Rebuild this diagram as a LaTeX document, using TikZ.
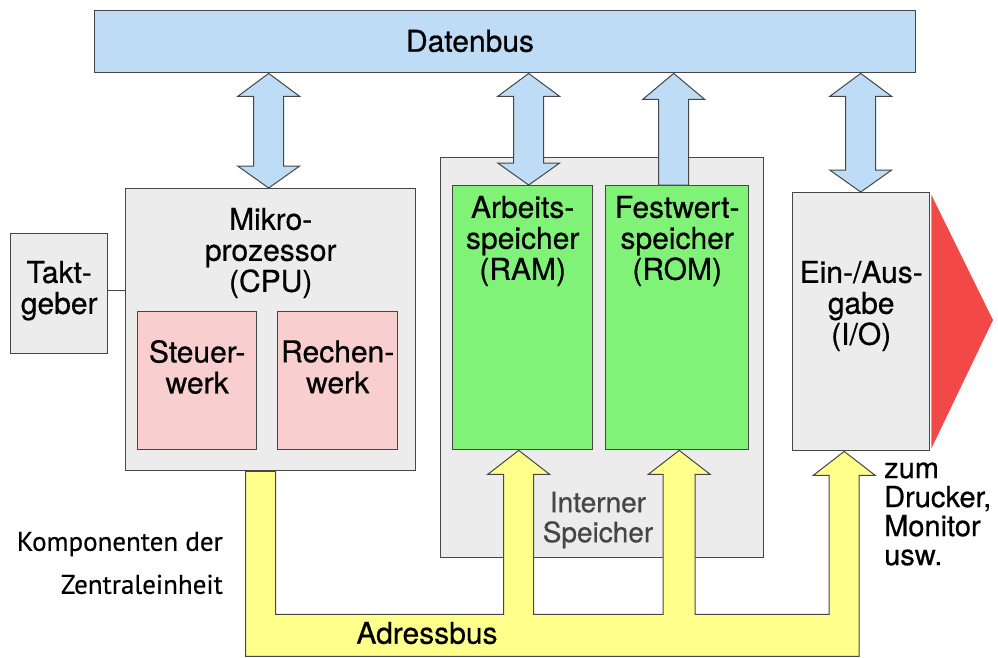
\documentclass[tikz,border=0pt]{standalone}
\usepackage{fontspec}
\setmainfont{TeX Gyre Heros}[FakeBold=0.6]
\newfontfamily\komfont{PT Sans}[FakeBold=0.4]
\usetikzlibrary{calc}
\definecolor{busblue}{RGB}{190,220,245}
\definecolor{boxgray}{RGB}{236,236,236}
\definecolor{pinkfill}{RGB}{248,206,206}
\definecolor{greenfill}{RGB}{128,242,120}
\definecolor{yellowfill}{RGB}{255,255,140}
\definecolor{redfill}{RGB}{242,72,72}
\definecolor{edge}{RGB}{70,70,70}
\definecolor{darktext}{RGB}{70,70,70}
\newcommand\DblArrow[2]{%
  \draw[dbus] (#1) -- ($(#1)+(31,23)$) -- ($(#1)+(15,23)$) -- ($(#2)+(15,-22)$) -- ($(#2)+(31,-22)$) -- (#2)
   -- ($(#2)+(-31,-22)$) -- ($(#2)+(-15,-22)$) -- ($(#1)+(-15,23)$) -- ($(#1)+(-31,23)$) -- cycle;}
\begin{document}
\begin{tikzpicture}[x=1pt,y=-1pt,
  box/.style={draw=edge,line width=1.4pt,inner sep=0pt,anchor=north west},
  lbl/.style={font=\fontsize{30}{31}\selectfont,align=center,inner sep=0pt,text=black},
  dbus/.style={draw=edge,line width=1pt,fill=busblue,line join=miter},
  abus/.style={draw=edge,line width=1pt,fill=yellowfill,line join=miter}]
\useasboundingbox (0,0) rectangle (998,657);
% boxes
\node[box,fill=busblue,minimum width=821,minimum height=62] (datenbus) at (94,10) {};
\node[box,fill=boxgray,minimum width=97,minimum height=120] (takt) at (10,233) {};
\node[box,fill=boxgray,minimum width=290,minimum height=282] (cpu) at (125,188) {};
\node[box,fill=pinkfill,minimum width=119,minimum height=138] (steuer) at (137,311) {};
\node[box,fill=pinkfill,minimum width=120,minimum height=138] (rechen) at (277,311) {};
\node[box,fill=boxgray,minimum width=323,minimum height=400] (intern) at (440,157) {};
\node[box,fill=greenfill,minimum width=140,minimum height=264] (ram) at (452,185) {};
\node[box,fill=greenfill,minimum width=143,minimum height=264] (rom) at (605,185) {};
\node[box,fill=boxgray,minimum width=137,minimum height=258] (io) at (792,192) {};
\fill[redfill] ($(io.north east)+(1,3)$) coordinate (r1) -- (993,320) coordinate (r2) -- ($(io.south east)+(1,-3)$) coordinate (r3) -- cycle;
% Takt line
\draw[edge,line width=1pt] ($(takt.east)+(0,-3)$) -- ($(takt.east -| cpu.west)+(0,-3)$);
% data bus arrows
\coordinate (cpuT) at ($(datenbus.south -| cpu.north)+(-2,0)$);
\coordinate (cpuB) at ($(cpu.north)+(-2,0)$);
\coordinate (ramT) at ($(datenbus.south -| ram.north)+(6,0)$);
\coordinate (ramB) at ($(ram.north)+(6,0)$);
\coordinate (romT) at ($(datenbus.south -| rom.north)+(-3.5,0)$);
\coordinate (romB) at ($(rom.north)+(-3.5,0)$);
\coordinate (ioT) at ($(datenbus.south -| io.north)+(-0.5,0)$);
\coordinate (ioB) at ($(io.north)+(-0.5,0)$);
\DblArrow{cpuT}{cpuB}
\DblArrow{ramT}{ramB}
\DblArrow{ioT}{ioB}
\draw[dbus] (romT) -- ($(romT)+(31,26)$) -- ($(romT)+(15,26)$) -- ($(romB)+(15,0)$) -- ($(romB)+(-15,0)$) -- ($(romT)+(-15,26)$) -- ($(romT)+(-31,26)$) -- cycle;
% address bus
\coordinate (aRam) at ($(ram.south)+(-4,0)$);
\coordinate (aRom) at ($(rom.south)+(2,0)$);
\coordinate (aIo) at ($(io.south)+(-17,0)$);
\draw[abus] ($(cpu.south)+(-25,0)$) coordinate (y0) -- ($(y0)+(0,185)$)
  -- ($(aIo)+(15,205)$) -- ($(aIo)+(15,24)$) -- ($(aIo)+(31,24)$) -- (aIo) -- ($(aIo)+(-31,24)$) -- ($(aIo)+(-15,24)$) -- ($(aIo)+(-15,163)$)
  -- ($(aRom)+(16,164)$) -- ($(aRom)+(16,24)$) -- ($(aRom)+(31,24)$) -- (aRom) -- ($(aRom)+(-31,24)$) -- ($(aRom)+(-16,24)$) -- ($(aRom)+(-16,164)$)
  -- ($(aRam)+(15,164)$) -- ($(aRam)+(15,24)$) -- ($(aRam)+(31,24)$) -- (aRam) -- ($(aRam)+(-31,24)$) -- ($(aRam)+(-15,24)$) -- ($(aRam)+(-15,164)$)
  -- ($(cpu.south)+(5,143)$) -- ($(cpu.south)+(5,0)$) -- cycle;
% labels
\node[lbl] (tdaten) at (470,41) {Datenbus};
\node[lbl] (ttakt) at ($(takt.center)+(0,-3)$) {Takt-\\geber};
\node[lbl] (tcpu) at ($(cpu.north)+(0,65)$) {Mikro-\\prozessor\\(CPU)};
\node[lbl] (tsteuer) at ($(steuer.north)+(0,56)$) {Steuer-\\werk};
\node[lbl] (trechen) at ($(rechen.north)+(0,56)$) {Rechen-\\werk};
\node[lbl] (tram) at ($(ram.north)+(0,56)$) {Arbeits-\\speicher\\(RAM)};
\node[lbl] (trom) at ($(rom.north)+(0,56)$) {Festwert-\\speicher\\(ROM)};
\node[lbl] (tio) at ($(io.north)+(0,114)$) {Ein-/Aus-\\gabe\\(I/O)};
\node[lbl,text=darktext,font=\fontsize{28}{30}\selectfont] (tintern) at (598,520) {Interner\\Speicher};
\node[lbl] (tadr) at (427,633) {Adressbus};
\node[lbl,align=left,anchor=west,font=\fontsize{29}{29}\selectfont] (tzum) at (884,514) {zum\\Drucker,\\Monitor\\usw.};
\node[lbl,align=right,anchor=east,font=\komfont\fontsize{27}{43}\selectfont] (tkomp) at (223,563) {Komponenten der\\Zentraleinheit};
\end{tikzpicture}
\end{document}
